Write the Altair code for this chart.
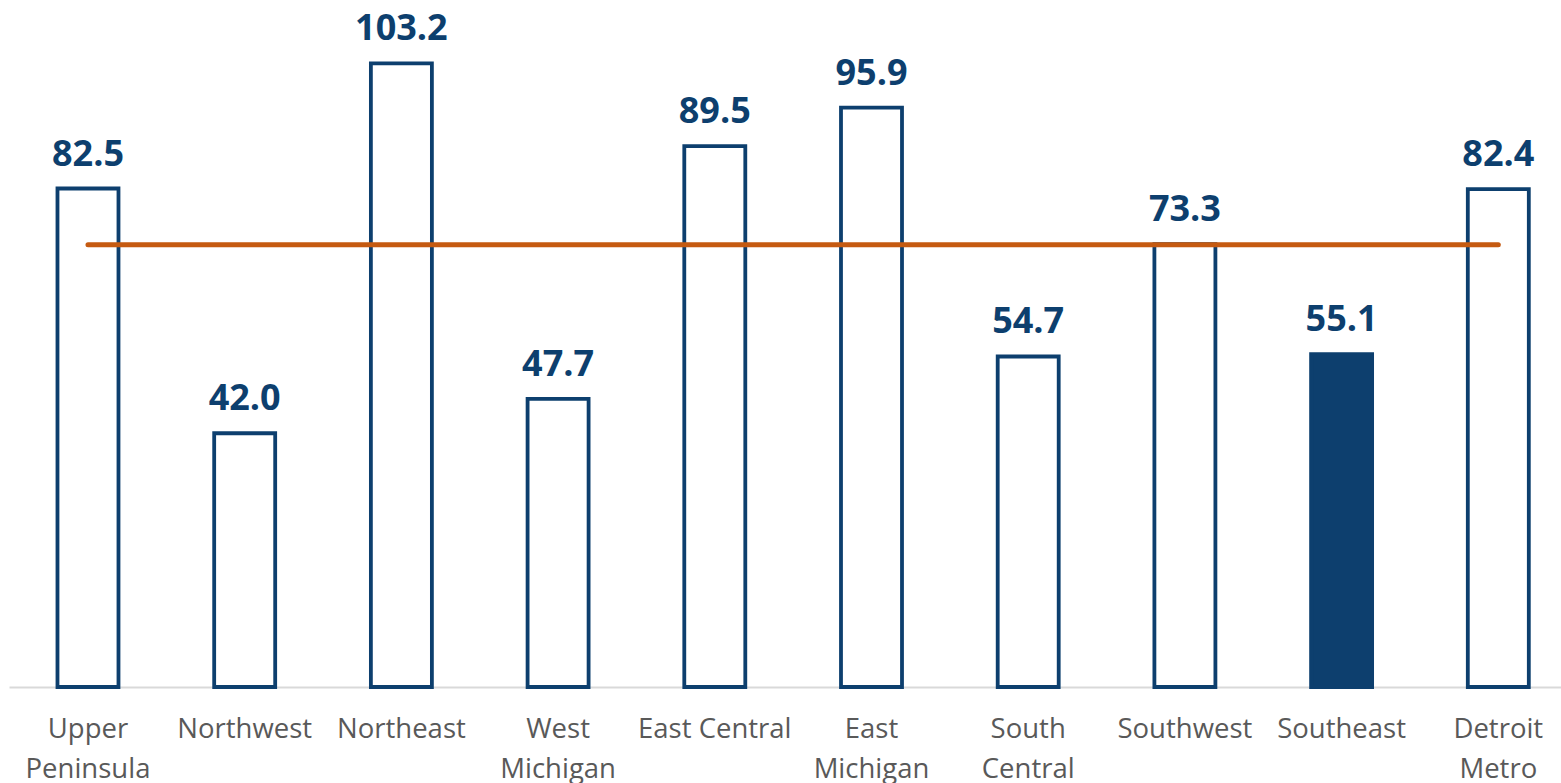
import altair as alt
import pandas as pd

categories = ["Upper\nPeninsula", "Northwest", "Northeast", "West\nMichigan", "East Central",
              "East\nMichigan", "South\nCentral", "Southwest", "Southeast", "Detroit\nMetro"]
values = [82.5, 42.0, 103.2, 47.7, 89.5, 95.9, 54.7, 73.3, 55.1, 82.4]
highlight = [False, False, False, False, False, False, False, False, True, False]
average = 73.2

NAVY = "#0D3F6E"
ORANGE = "#C55A11"

df = pd.DataFrame({"region": categories, "value": values, "hl": highlight})
df["label"] = df["value"].map(lambda v: f"{v:.1f}")
avg_df = pd.DataFrame({"x": [categories[0]], "x2": [categories[-1]], "y": [average]})

xscale = alt.Scale(domain=categories, paddingInner=0.6107, paddingOuter=0.2574, align=0.601, round=False)
yscale = alt.Scale(domain=[0, 113.7], nice=False, zero=True)

xenc = alt.X("region:N", scale=xscale, sort=categories,
             axis=alt.Axis(title=None, labelAngle=0, ticks=False, domain=True,
                           domainColor="#D9D9D9", domainWidth=2,
                           labelFont="Open Sans", labelFontSize=27.5, labelColor="#595959",
                           labelPadding=28, labelLineHeight=40, labelBaseline="top",
                           labelExpr="split(datum.value, '\\n')"))
yenc = alt.Y("value:Q", scale=yscale, axis=None)

bars = alt.Chart(df).mark_bar(stroke=NAVY, strokeWidth=3.8, cornerRadius=0).encode(
    x=xenc,
    y=yenc,
    fill=alt.condition("datum.hl", alt.value(NAVY), alt.value("white")),
)

labels = alt.Chart(df).mark_text(font="Open Sans", fontSize=36, fontWeight="bold",
                                 color=NAVY, baseline="alphabetic", dy=-23).encode(
    x=alt.X("region:N", scale=xscale, sort=categories),
    y=alt.Y("value:Q", scale=yscale),
    text="label:N",
)

avg_line = alt.Chart(avg_df).mark_rule(color=ORANGE, strokeWidth=5, strokeCap="round").encode(
    x=alt.X("x:N", scale=xscale),
    x2="x2:N",
    y=alt.Y("y:Q", scale=yscale),
)

chart = alt.layer(bars, avg_line, labels).properties(
    width=1552, height=687,
    autosize=alt.AutoSizeParams(type="none"),
    padding={"left": 9, "top": 0, "right": 0, "bottom": 96},
).configure_view(stroke=None).configure_axis(grid=False)

chart.save("out.html", embed_options={"renderer": "svg", "actions": False})
